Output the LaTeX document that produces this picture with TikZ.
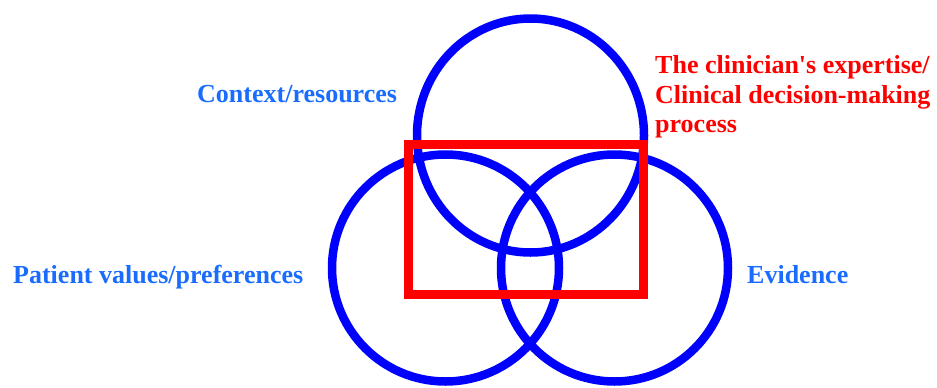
\documentclass[tikz,border=0pt]{standalone}
\usepackage{fontspec}
\setmainfont{Liberation Serif}
\newfontfamily\lblfont{Liberation Serif}
\definecolor{ringblue}{RGB}{0,0,255}
\definecolor{textblue}{RGB}{25,108,255}
\definecolor{boxred}{RGB}{255,0,0}
\tikzset{
  ring/.style={draw=ringblue, line width=8.5bp},
  redbox/.style={draw=boxred, line width=9bp},
  lbl/.style={inner sep=0pt, anchor=base west, font=\lblfont\fontsize{26bp}{29.5bp}\selectfont\bfseries},
}
\begin{document}
\begin{tikzpicture}[x=1bp, y=-1bp]
\useasboundingbox (0,0) rectangle (937,387);
\draw[ring] (530.5,135.5) ellipse [x radius=113.5, y radius=117];
\draw[ring] (445.5,268) circle [radius=113.5];
\draw[ring] (614.5,268) circle [radius=113.5];
\draw[redbox] (408.5,144.5) rectangle (643.5,294.5);
\node[lbl, text=textblue] (ctx) at (197,102) {Context/resources};
\node[lbl, text=textblue] (pat) at (13,283) {Patient values/preferences};
\node[lbl, text=textblue] (evi) at (747,283) {Evidence};
\node[lbl, text=boxred] (cli1) at (655,73) {The clinician's expertise/};
\node[lbl, text=boxred] (cli2) at (655,103) {Clinical decision-making};
\node[lbl, text=boxred] (cli3) at (655,132) {process};
\end{tikzpicture}
\end{document}
